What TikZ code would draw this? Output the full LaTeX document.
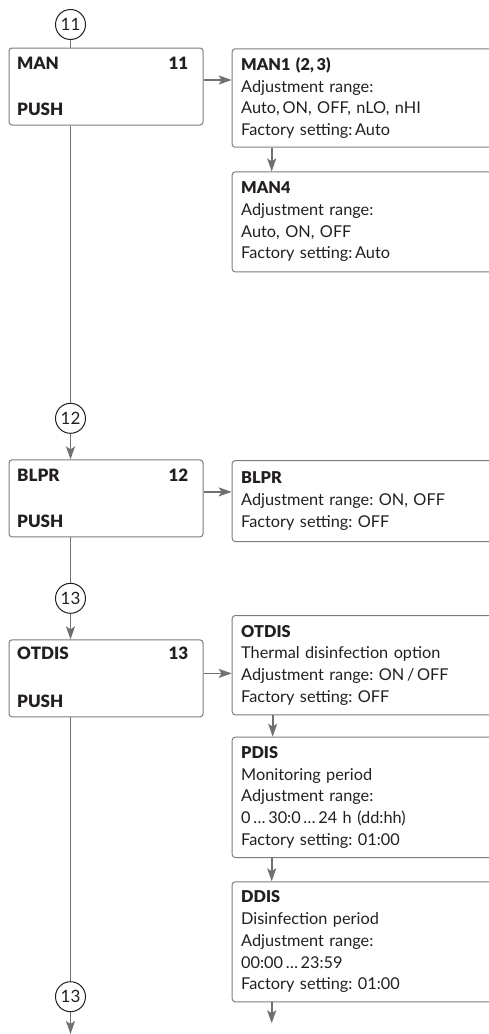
\documentclass[tikz,border=0pt]{standalone}
\usepackage{fontspec}
\setmainfont{Lato}[BoldFont={Lato Black}]
\frenchspacing
\usetikzlibrary{positioning,arrows.meta}
\definecolor{linegray}{RGB}{112,112,114}
\definecolor{boxgray}{RGB}{125,125,127}
\definecolor{inkblack}{RGB}{35,31,32}

\begin{document}
\begin{tikzpicture}[x=1pt, y=-1pt, >={Stealth[length=13pt, width=9pt, inset=3pt]},
    font=\fontsize{16.3}{21.7}\selectfont, text=inkblack]

  \tikzset{
    menubox/.style={draw=boxgray, line width=1pt, rounded corners=3pt,
      minimum width=194pt, minimum height=77pt, inner sep=0pt},
    infobox/.style={draw=boxgray, line width=1pt, rounded corners=3pt,
      anchor=north west, text width=262pt, align=left, inner xsep=9pt, inner ysep=0pt},
    keylabel/.style={inner sep=0pt, font=\fontsize{17}{18}\selectfont\bfseries},
    marker/.style={circle, draw=inkblack, line width=1pt, minimum size=30pt,
      inner sep=0pt, fill=white, font=\fontsize{17}{17}\selectfont},
    flow/.style={linegray, line width=1.7pt},
  }

  % --- Parameters ---
  \pgfmathsetmacro{\spinex}{70.5}   % x of the main vertical line
  \pgfmathsetmacro{\menux}{106}     % centre x of the menu boxes
  \pgfmathsetmacro{\infox}{231.7}   % left edge of the info boxes

  \useasboundingbox (0,0) rectangle (489,1034);
  \clip (0,0) rectangle (489,1034);

  % --- Menu boxes (left column) ---
  \node[menubox] (man)   at (\menux,86.5)  {};
  \node[menubox] (blpr)  at (\menux,498.4) {};
  \node[menubox] (otdis) at (\menux,678.4) {};

  \node[keylabel, anchor=base west] (mantitle)   at ([shift={(8.5,22)}]man.north west) {MAN};
  \node[keylabel, anchor=base east] (mannum)     at ([shift={(-15,22)}]man.north east) {11};
  \node[keylabel, anchor=base west] (manpush)    at ([shift={(8.5,-10)}]man.south west) {PUSH};

  \node[keylabel, anchor=base west] (blprtitle)  at ([shift={(8.5,21.7)}]blpr.north west) {BLPR};
  \node[keylabel, anchor=base east] (blprnum)    at ([shift={(-15,21.7)}]blpr.north east) {12};
  \node[keylabel, anchor=base west] (blprpush)   at ([shift={(8.5,-10)}]blpr.south west) {PUSH};

  \node[keylabel, anchor=base west] (otdistitle) at ([shift={(8.5,20)}]otdis.north west) {OTDIS};
  \node[keylabel, anchor=base east] (otdisnum)   at ([shift={(-15,20)}]otdis.north east) {13};
  \node[keylabel, anchor=base west] (otdispush)  at ([shift={(8.5,-10)}]otdis.south west) {PUSH};

  % --- Info boxes (right column) ---
  \node[infobox, minimum height=98.4pt] (man1) at (\infox,48.3) {%
    \textbf{MAN1 (2,\,3)}\\
    Adjustment range:\\
    Auto,\,ON, OFF, nLO, nHI\\
    Factory setting:\,Auto};
  \node[infobox, minimum height=100pt, below=23.7pt of man1.south west, anchor=north west] (man4) {%
    \textbf{MAN4}\\
    Adjustment range:\\
    Auto, ON, OFF\\
    Factory setting:\,Auto};

  \node[infobox, minimum height=81pt] (blprinfo) at (\infox,460) {%
    \textbf{BLPR}\\
    Adjustment range: ON, OFF\\
    Factory setting: OFF};

  \node[infobox, minimum height=99.3pt] (otdisinfo) at (\infox,615) {%
    \textbf{OTDIS}\\
    Thermal disinfection option\\
    Adjustment range: ON\,/\,OFF\\
    Factory setting: OFF};
  \node[infobox, minimum height=120.3pt, below=21.4pt of otdisinfo.south west, anchor=north west] (pdis) {%
    \textbf{PDIS}\\
    Monitoring period\\
    Adjustment range:\\
    0\,\ldots\,30:0\,\ldots\,24 h (dd:hh)\\
    Factory setting: 01:00};
  \node[infobox, minimum height=120pt, below=23.3pt of pdis.south west, anchor=north west] (ddis) {%
    \textbf{DDIS}\\
    Disinfection period\\
    Adjustment range:\\
    00:00\,\ldots\,23:59\\
    Factory setting: 01:00};

  % --- Step markers ---
  \node[marker] (c11)  at (\spinex,24.5)  {11};
  \node[marker] (c12)  at (\spinex,418.3) {12};
  \node[marker] (c13)  at (\spinex,598.3) {13};
  \node[marker] (c13b) at (\spinex,996.7) {13};

  % free ends of the outgoing arrows
  \coordinate (leftout)  at (\spinex,1034);
  \coordinate (rightout) at ([xshift=40pt]ddis.south west |- 0,1023.3);

  % --- Main line ---
  \draw[flow, line width=1.2pt] (c11) -- (c11 |- man.north);
  \draw[flow] (c12 |- man.south) -- (c12);
  \draw[flow, ->] (c12) -- (c12 |- blpr.north);
  \draw[flow] (c13 |- blpr.south) -- (c13);
  \draw[flow, ->] (c13) -- (c13 |- otdis.north);
  \draw[flow] (c13b |- otdis.south) -- (c13b);
  \draw[flow, ->] (c13b) -- (leftout);

  % --- Links to the info boxes ---
  \draw[flow, ->] ([yshift=6.5pt]man.east) -- ([yshift=6.5pt]man.east -| man1.west);
  \draw[flow, ->] ([yshift=6.5pt]blpr.east) -- ([yshift=6.5pt]blpr.east -| blprinfo.west);
  \draw[flow, ->] ([yshift=5pt]otdis.east) -- ([yshift=5pt]otdis.east -| otdisinfo.west);

  \draw[flow, ->] ([xshift=40pt]man1.south west) -- ([xshift=40pt]man4.north west);
  \draw[flow, ->] ([xshift=41pt]otdisinfo.south west) -- ([xshift=41pt]pdis.north west);
  \draw[flow, ->] ([xshift=40pt]pdis.south west) -- ([xshift=40pt]ddis.north west);
  \draw[flow, ->] ([xshift=40pt]ddis.south west) -- (rightout);

\end{tikzpicture}
\end{document}
